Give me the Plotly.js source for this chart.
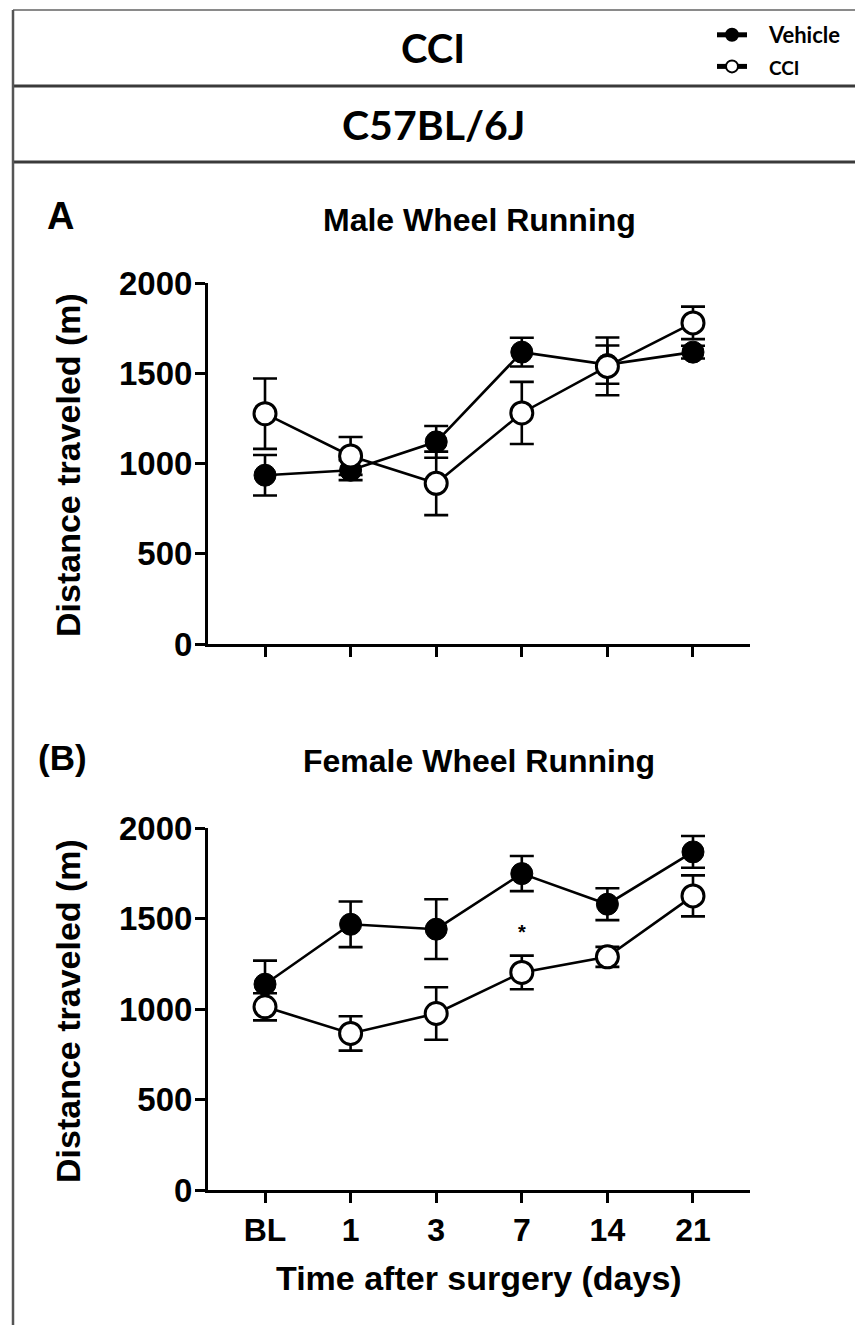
<!DOCTYPE html>
<html>
<head>
<meta charset="utf-8">
<script src="https://cdn.plot.ly/plotly-3.0.1.min.js"></script>
<style>html,body{margin:0;padding:0;background:#fff;}#chart{width:855px;height:1325px;}</style>
</head>
<body>
<div id="chart"></div>
<script>
// ---- data ----
const days = ['BL', '1', '3', '7', '14', '21'];
const yTicks = [0, 500, 1000, 1500, 2000];

const maleVehicle    = [935, 963, 1120, 1617, 1548, 1617];
const maleVehicleSem = [112, 55, 88, 80, 106, 35];
const maleCCI        = [1276, 1042, 890, 1280, 1538, 1779];
const maleCCISem     = [195, 105, 176, 172, 160, 90];

const femaleVehicle    = [1137, 1468, 1441, 1748, 1579, 1868];
const femaleVehicleSem = [130, 126, 165, 97, 88, 88];
const femaleCCI        = [1012, 865, 975, 1202, 1288, 1625];
const femaleCCISem     = [75, 95, 145, 93, 55, 113];

const sigDay = '7';
const sigY = 1425;

// ---- layout helpers ----
const W = 855, H = 1325;
const px = x => x / W;
const py = y => 1 - y / H;
const SANS = 'Liberation Sans, Arial, sans-serif';
const HEAD = 'Lato, Open Sans, sans-serif';

function series(name, x, y, sem, filled, xa, ya, showleg) {
  return {
    type: 'scatter', mode: 'lines+markers', name: name,
    x: x, y: y, xaxis: xa, yaxis: ya, showlegend: showleg,
    line: {color: 'black', width: 2.6},
    marker: filled ? {size: 22, color: 'black', line: {color: 'black', width: 1}}
                   : {size: 22, color: 'white', line: {color: 'black', width: 3}},
    error_y: {type: 'data', array: sem, visible: true, color: 'black', thickness: 2.6, width: 12},
    cliponaxis: false, hoverinfo: 'skip'
  };
}

const data = [
  series('\u00a0\u00a0\u00a0<b>Vehicle</b>', days, maleVehicle, maleVehicleSem, true, 'x', 'y', true),
  series('\u00a0\u00a0\u00a0<b><span style="font-size:19px">CCI</span></b>', days, maleCCI, maleCCISem, false, 'x', 'y', true),
  series('Vehicle', days, femaleVehicle, femaleVehicleSem, true, 'x2', 'y2', false),
  series('CCI', days, femaleCCI, femaleCCISem, false, 'x2', 'y2', false)
];

function xAxis(anchor, labels) {
  return {
    domain: [px(208), px(750)], anchor: anchor, type: 'category',
    range: [-0.666, 5.666], showline: true, linewidth: 3, linecolor: 'black',
    ticks: 'outside', ticklen: 10, tickwidth: 3, tickcolor: 'black',
    showticklabels: labels, showgrid: false, zeroline: false,
    tickfont: {family: SANS, size: 32, color: 'black', weight: 'bold'},
    fixedrange: true
  };
}
function yAxis(anchor, top, bottom) {
  return {
    domain: [py(bottom), py(top)], anchor: anchor, range: [0, 2000],
    tickvals: yTicks, ticktext: yTicks.map(String),
    showline: true, linewidth: 3, linecolor: 'black',
    ticks: 'outside', ticklen: 10, tickwidth: 3, tickcolor: 'black',
    showgrid: false, zeroline: false, ticklabelstandoff: -4,
    tickfont: {family: SANS, size: 33, color: 'black', weight: 'bold'},
    fixedrange: true
  };
}

function note(text, x, y, size, family, extra) {
  return Object.assign({
    text: text, xref: 'paper', yref: 'paper', x: px(x), y: py(y),
    xanchor: 'center', yanchor: 'middle', showarrow: false,
    font: {family: family || SANS, size: size, color: 'black', weight: 'bold'}
  }, extra || {});
}

const lineCol = '#3a3a3a';
const shapes = [
  {type: 'line', xref: 'paper', yref: 'paper', x0: px(13), x1: px(855), y0: py(10), y1: py(10), line: {color: '#8a8a8a', width: 2}},
  {type: 'line', xref: 'paper', yref: 'paper', x0: px(13), x1: px(855), y0: py(86), y1: py(86), line: {color: lineCol, width: 3}},
  {type: 'line', xref: 'paper', yref: 'paper', x0: px(13), x1: px(855), y0: py(162), y1: py(162), line: {color: lineCol, width: 3}},
  {type: 'line', xref: 'paper', yref: 'paper', x0: px(13), x1: px(13), y0: py(10), y1: py(1325), line: {color: '#555', width: 2.5}}
];

const annotations = [
  note('CCI', 433, 48, 40, HEAD),
  note('C57BL/6J', 433, 125, 41, HEAD),
  note('A', 60, 216, 38),
  note('Male Wheel Running', 479, 220, 32),
  note('(B)', 62, 757, 35),
  note('Female Wheel Running', 479, 761, 32),
  note('Distance traveled (m)', 68, 465, 34, SANS, {textangle: -90}),
  note('Distance traveled (m)', 68, 1011, 34, SANS, {textangle: -90}),
  note('Time after surgery (days)', 479, 1278, 34),
  {text: '*', xref: 'x2', yref: 'y2', x: days.indexOf(sigDay), y: sigY, showarrow: false,
   xanchor: 'center', yanchor: 'middle', font: {family: SANS, size: 20, color: 'black', weight: 'bold'}}
];

const layout = {
  width: W, height: H, margin: {l: 0, r: 0, t: 0, b: 0},
  paper_bgcolor: 'white', plot_bgcolor: 'white',
  showlegend: true,
  legend: {x: px(712), y: py(14), xanchor: 'left', yanchor: 'top',
           bgcolor: 'rgba(0,0,0,0)', itemwidth: 30, itemsizing: 'constant',
           font: {family: HEAD, size: 22, color: 'black'}, tracegroupgap: 0},
  xaxis: xAxis('y', false),
  yaxis: yAxis('x', 283, 644),
  xaxis2: xAxis('y2', true),
  yaxis2: yAxis('x2', 828, 1190),
  shapes: shapes,
  annotations: annotations
};

Plotly.newPlot('chart', data, layout, {displayModeBar: false, staticPlot: true});
</script>
</body>
</html>
